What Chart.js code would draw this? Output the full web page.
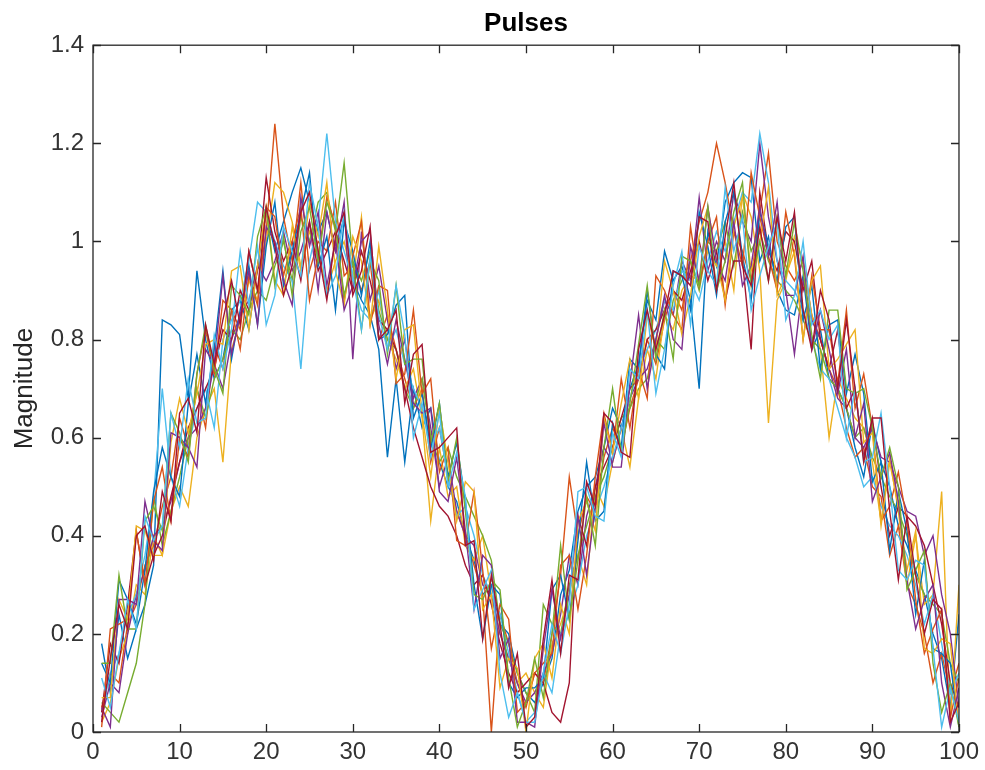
<!DOCTYPE html>
<html>
<head>
<meta charset="utf-8">
<script src="https://cdn.jsdelivr.net/npm/chart.js@4.4.1/dist/chart.umd.min.js"></script>
<style>
  html, body { margin: 0; padding: 0; background: #fff; }
  #wrap { width: 985px; height: 770px; }
</style>
</head>
<body>
<div id="wrap"><canvas id="pulseChart" width="985" height="770"></canvas></div>
<script>
// Pulses - 14 noisy traces, sample index 1..100
const sampleIdx = Array.from({ length: 100 }, (_, i) => i + 1);
const xTicks = [0, 10, 20, 30, 40, 50, 60, 70, 80, 90, 100];
const yTicks = [0, 0.2, 0.4, 0.6, 0.8, 1, 1.2, 1.4];

const pulse1 = [.18,.08,.24,.15,.21,.26,.34,.84,.83,.81, .68,.94,.80,.72,.76,.86,.88,.82,.95,1.06, .98,1.04,1.10,1.15,1.08,1.02,1.06,.98,1.05,.92,
  .88,.85,.78,.56,.72,.55,.70,.62,.66,.55, .50,.47,.40,.35,.28,.30,.22,.20,.12,.08, .06,.10,.15,.28,.33,.45,.50,.52,.58,.66,
  .62,.70,.75,.88,.84,.98,.92,.95,.88,.70, 1.02,.95,1.08,1.12,1.14,1.13,.96,1.01,.90,.86, .85,.93,.78,.82,.72,.70,.66,.58,.52,.63, .55,.50,.42,.38,.33,.28,.20,.15,.05,.24];
const pulse2 = [.05,.12,.10,.22,.26,.34,.38,.46,.52,.64, .58,.70,.62,.79,.74,.86,.82,.98,.90,1.02, 1.24,1.05,.96,1.12,.94,1.00,.98,1.08,.93,.95,
  .90,.96,.80,.85,.78,.72,.66,.70,.55,.62, .52,.45,.40,.34,.28,.00,.24,.18,.10,.05, .12,.10,.20,.32,.52,.40,.48,.45,.56,.62,
  .58,.66,.72,.80,.75,.84,.90,.86,.96,1.04, 1.10,1.20,1.12,1.02,.98,.92,1.06,1.18,1.00,.95, .92,.96,.85,.80,.74,.70,.62,.56,.58,.50, .48,.36,.42,.30,.26,.20,.10,.16,.08,.14];
const pulse3 = [.02,.06,.15,.20,.30,.28,.40,.36,.45,.50, .46,.60,.66,.70,.55,.78,.84,.92,.88,1.00, 1.12,1.10,1.04,.95,1.02,.98,.90,.96,1.00,.92,
  1.05,.84,.88,.80,.76,.70,.74,.64,.43,.58, .48,.50,.38,.35,.40,.28,.20,.15,.10,.12, .08,.05,.18,.22,.28,.36,.30,.50,.46,.55,
  .62,.54,.68,.78,.72,.85,.82,.90,.93,.92, .98,.95,1.00,.90,1.10,1.05,.94,.63,.88,.92, 1.01,.96,.85,.78,.60,.72,.68,.64,.62,.55, .43,.56,.45,.30,.40,.26,.28,.49,.02,.30];
const pulse4 = [.03,.10,.08,.20,.28,.33,.40,.42,.47,.55, .60,.62,.66,.75,.70,.80,.85,.88,.95,.92, .96,1.02,.94,.98,1.04,.90,1.06,.98,1.08,.76,
  1.02,.88,.95,.84,.74,.80,.68,.72,.62,.50, .56,.45,.40,.38,.30,.28,.20,.15,.10,.06, .08,.12,.16,.24,.36,.30,.44,.50,.58,.55,
  .62,.68,.72,.74,.80,.88,.85,.96,.92,1.09, .94,1.00,.96,1.10,1.04,1.00,1.20,1.05,.96,.90, .77,.92,.84,.80,.74,.68,.66,.60,.58,.62, .56,.55,.50,.45,.44,.36,.40,.28,.20,.05];
const pulse5 = [.06,.04,.02,.08,.14,.26,.48,.38,.45,.52, .60,.70,.64,.72,.76,.82,.80,.86,.90,.88, .95,1.00,.92,1.05,1.00,1.08,1.10,1.02,1.16,.96,
  .92,.98,.86,.80,.78,.70,.66,.72,.60,.55, .58,.52,.48,.44,.40,.35,.22,.18,.12,.08, .04,.26,.22,.20,.30,.36,.42,.48,.52,.58,
  .64,.66,.70,.72,.80,.78,.88,.92,.96,.90, 1.00,.98,1.04,.95,1.06,.98,1.02,.96,.92,.90, .88,.84,.80,.78,.72,.70,.66,.60,.62,.56, .52,.48,.45,.40,.32,.28,.26,.24,.14,.10];
const pulse6 = [.04,.12,.16,.24,.28,.36,.48,.70,.52,.46, .58,.66,.70,.62,.80,.84,.88,.96,1.08,1.06, 1.00,.95,.92,.74,.96,1.04,1.22,1.04,.98,.92,
  .86,.84,.90,.78,.82,.75,.70,.66,.58,.62, .52,.44,.46,.40,.32,.28,.24,.16,.08,.02, .04,.12,.08,.20,.24,.30,.40,.45,.50,.56,
  .62,.68,.74,.78,.82,.88,.86,.94,.92,.88, .96,1.02,.98,1.04,1.10,1.08,1.22,1.12,.96,.92, .90,.86,.80,.74,.72,.66,.60,.56,.50,.52, .46,.42,.40,.36,.30,.22,.28,.18,.08,.12];
const pulse7 = [.04,.18,.14,.26,.41,.30,.36,.40,.48,.55, .62,.66,.70,.74,.82,.80,.90,.86,.94,1.13, 1.02,.96,1.00,.92,1.04,.94,.98,1.02,.96,.90,
  .98,.92,.84,.82,.78,.70,.62,.56,.50,.46, .44,.40,.34,.30,.32,.26,.18,.12,.08,.10, .12,.10,.04,.02,.10,.44,.38,.50,.54,.58,
  .64,.70,.72,.80,.82,.86,.90,.88,.94,1.00, .92,.98,.88,.96,.96,.78,1.10,.98,.94,1.02, 1.00,.90,.96,.80,.74,.82,.66,.70,.56,.64, .50,.40,.46,.44,.42,.38,.30,.22,.10,.05];
const pulse8 = [.14,.10,.31,.27,.22,.33,.49,.58,.52,.48, .67,.77,.67,.78,.94,.76,.86,.95,.83,.99, 1.08,.91,.98,1.06,1.14,.95,1.01,.86,1.04,.98,
  .89,1.00,.80,.81,.87,.89,.64,.69,.58,.67, .52,.59,.47,.30,.19,.30,.28,.10,.07,.09, .09,.11,.29,.32,.23,.39,.55,.43,.45,.63,
  .58,.76,.74,.90,.77,.74,.94,.93,.86,1.06, .99,.89,1.04,1.10,.97,.88,1.06,.99,.92,1.03, 1.05,.84,.91,.74,.83,.84,.69,.77,.69,.51, .55,.37,.49,.41,.24,.35,.17,.16,.14,.01];
const pulse9 = [.01,.21,.22,.23,.41,.30,.47,.54,.43,.60, .56,.73,.82,.73,.88,.86,.78,.93,.87,1.07, 1.05,.93,1.00,1.07,.88,.97,1.09,1.03,.88,.97,
  1.04,.83,.91,.90,.71,.73,.86,.69,.72,.53, .58,.39,.38,.49,.33,.17,.26,.23,.04,.06, .12,.14,.16,.34,.36,.25,.36,.52,.65,.57,
  .72,.62,.74,.68,.93,.90,.85,.82,1.03,.91, 1.00,1.05,.87,1.02,.95,1.14,1.05,.97,.90,1.06, .97,.80,.93,.82,.82,.71,.86,.66,.73,.62, .43,.46,.53,.43,.27,.16,.21,.25,.03,.11];
const pulse10 = [.07,.07,.27,.23,.42,.41,.36,.36,.59,.68, .61,.69,.79,.80,.79,.94,.95,.82,.95,1.07, .92,.89,1.03,.94,1.08,1.01,1.12,.94,.87,1.01,
  .96,.83,.99,.86,.72,.82,.83,.65,.52,.66, .55,.43,.51,.49,.25,.28,.09,.15,.13,.00, .15,.18,.11,.26,.20,.43,.47,.41,.64,.57,
  .67,.76,.68,.85,.78,.96,.90,.81,.89,1.01, 1.07,.96,.88,1.03,1.09,.94,1.00,1.11,.89,.93, .98,.80,.92,.95,.74,.76,.79,.82,.59,.61, .42,.55,.46,.33,.41,.17,.16,.19,.18,.01];
const pulse11 = [.05,.01,.27,.27,.26,.47,.39,.37,.61,.60, .58,.54,.78,.75,.93,.77,.85,.94,.83,1.03, 1.00,.92,.87,1.09,.99,1.06,.91,1.00,.86,.91,
  1.00,1.02,.83,.75,.84,.76,.67,.65,.66,.49, .47,.56,.41,.25,.36,.34,.15,.19,.02,.02, .01,.17,.29,.19,.28,.44,.32,.46,.63,.54,
  .54,.71,.85,.70,.80,.89,.80,.78,.99,.92, 1.07,.96,.92,1.04,.91,.95,1.07,.97,1.08,.89, .89,.97,.78,.86,.78,.69,.78,.60,.67,.47, .52,.57,.47,.31,.21,.27,.30,.10,.01,.09];
const pulse12 = [.14,.14,.32,.21,.21,.43,.46,.41,.65,.61, .55,.73,.83,.74,.69,.91,.89,.85,1.01,1.07, .91,1.01,.89,1.02,1.07,.96,1.08,1.03,.89,.96,
  .82,.96,.92,.77,.91,.75,.76,.76,.59,.67, .51,.60,.45,.28,.27,.31,.29,.11,.01,.06, .15,.07,.20,.38,.23,.35,.48,.38,.58,.70,
  .57,.67,.79,.91,.76,.86,.76,.97,.96,.91, 1.07,.90,.96,1.06,1.12,.91,1.00,.92,1.05,.93, 1.04,.94,.81,.72,.86,.86,.70,.69,.70,.62, .52,.58,.50,.29,.33,.37,.14,.04,.10,.01];
const pulse13 = [.11,.05,.16,.27,.21,.44,.39,.42,.65,.58, .72,.63,.64,.81,.74,.82,.98,.87,.99,.83, .89,1.03,.98,.93,1.12,1.03,.89,.93,1.06,.93,
  .82,.97,.85,.78,.91,.81,.60,.67,.56,.65, .50,.57,.48,.25,.29,.33,.12,.03,.08,.02, .02,.12,.22,.16,.26,.49,.50,.44,.43,.61,
  .56,.74,.72,.86,.69,.78,.91,.98,.83,.99, .94,.91,1.11,.98,1.05,.86,.93,.99,1.04,.84, .89,1.00,.83,.86,.80,.83,.60,.70,.55,.56, .65,.50,.33,.31,.35,.34,.17,.01,.09,.02];
const pulse14 = [.02,.15,.26,.21,.40,.42,.35,.49,.43,.65, .68,.61,.83,.75,.84,.92,.83,.98,.90,1.07, .99,.89,.95,1.06,1.10,.98,.88,1.01,1.06,.89,
  .94,1.03,.80,.82,.86,.67,.77,.79,.57,.58, .60,.62,.38,.39,.19,.32,.22,.09,.16,.01, .03,.19,.31,.16,.32,.31,.51,.46,.65,.63,
  .57,.56,.78,.86,.78,.85,.94,.93,.91,1.05, 1.04,.90,1.01,1.12,.95,.91,1.03,.92,1.05,.96, 1.06,.86,.78,.90,.84,.70,.84,.70,.55,.64, .64,.45,.31,.44,.32,.20,.27,.25,.02,.06];

const pulses = [pulse1, pulse2, pulse3, pulse4, pulse5, pulse6, pulse7,
                pulse8, pulse9, pulse10, pulse11, pulse12, pulse13, pulse14];
const lineColors = ['#0072BD', '#D95319', '#EDB120', '#7E2F8E', '#77AC30', '#4DBEEE', '#A2142F'];

const FONT = "'Liberation Sans', Arial, Helvetica, sans-serif";
const AXIS_COLOR = '#262626';

// matlab style box with inward ticks on all four sides
const boxAxes = {
    id: 'boxAxes',
    afterDraw(chart) {
        const { ctx, chartArea: a, scales } = chart;
        const len = 8;
        ctx.save();
        ctx.strokeStyle = AXIS_COLOR;
        ctx.lineWidth = 1.3;
        ctx.strokeRect(a.left, a.top, a.right - a.left, a.bottom - a.top);
        ctx.beginPath();
        xTicks.forEach(v => {
            const px = Math.round(scales.x.getPixelForValue(v)) + 0.5;
            ctx.moveTo(px, a.bottom); ctx.lineTo(px, a.bottom - len);
            ctx.moveTo(px, a.top); ctx.lineTo(px, a.top + len);
        });
        yTicks.forEach(v => {
            const py = Math.round(scales.y.getPixelForValue(v)) + 0.5;
            ctx.moveTo(a.left, py); ctx.lineTo(a.left + len, py);
            ctx.moveTo(a.right, py); ctx.lineTo(a.right - len, py);
        });
        ctx.stroke();
        ctx.restore();
    }
};

function initPulseChart() {
    const el = document.getElementById('pulseChart');
    if (!el) return;

    const datasets = pulses.map((vals, i) => ({
        label: 'pulse ' + (i + 1),
        data: vals.map((v, j) => ({ x: sampleIdx[j], y: v })),
        borderColor: lineColors[i % lineColors.length],
        borderWidth: 1.4,
        pointRadius: 0,
        tension: 0,
        fill: false,
        order: pulses.length - i
    }));

    new Chart(el, {
        type: 'line',
        data: { datasets },
        options: {
            responsive: false,
            animation: false,
            layout: { padding: { left: 4, right: 23, top: 0, bottom: 0 } },
            plugins: {
                legend: { display: false },
                tooltip: { enabled: false },
                title: {
                    display: true,
                    fullSize: false,
                    text: 'Pulses',
                    color: '#000',
                    font: { family: FONT, size: 26, weight: 'bold' },
                    padding: { top: 8, bottom: 6 }
                }
            },
            scales: {
                x: {
                    type: 'linear',
                    min: 0, max: 100,
                    afterFit: s => { s.height = 38; },
                    afterBuildTicks: s => { s.ticks = xTicks.map(v => ({ value: v })); },
                    grid: { display: false, drawTicks: false },
                    border: { display: false },
                    ticks: {
                        color: '#333',
                        padding: 6,
                        maxRotation: 0,
                        font: { family: FONT, size: 24 },
                        callback: v => String(v)
                    }
                },
                y: {
                    type: 'linear',
                    min: 0, max: 1.4,
                    afterFit: s => { s.width = 89; },
                    afterBuildTicks: s => { s.ticks = yTicks.map(v => ({ value: v })); },
                    grid: { display: false, drawTicks: false },
                    border: { display: false },
                    title: {
                        display: true,
                        text: 'Magnitude',
                        color: '#262626',
                        font: { family: FONT, size: 26 },
                        padding: { top: 5, bottom: 4 }
                    },
                    ticks: {
                        color: '#333',
                        padding: 9,
                        font: { family: FONT, size: 24 },
                        callback: v => String(+Number(v).toFixed(1))
                    }
                }
            }
        },
        plugins: [boxAxes]
    });
}

document.addEventListener('DOMContentLoaded', initPulseChart);
</script>
</body>
</html>
